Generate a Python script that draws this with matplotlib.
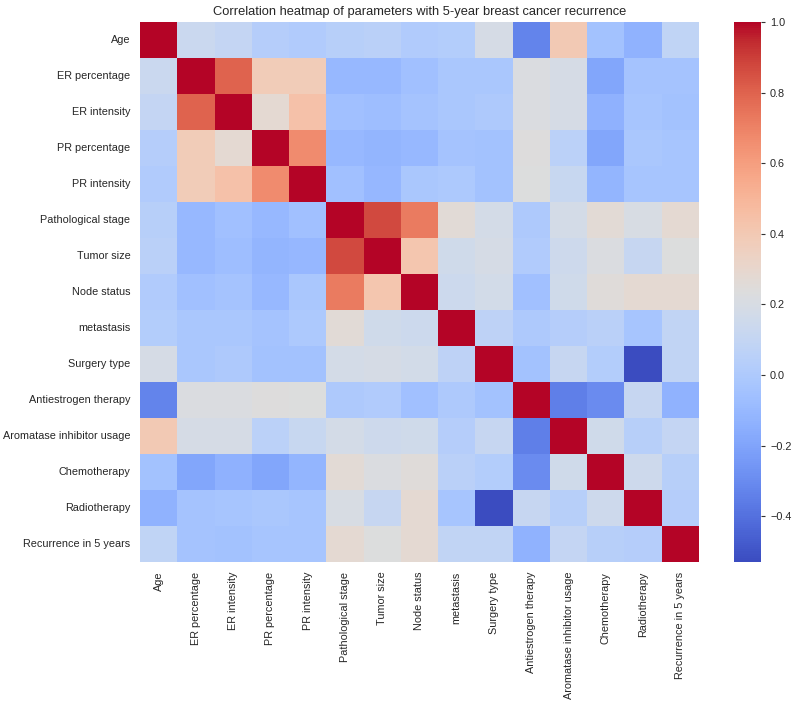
import numpy as np
import pandas as pd
import matplotlib
matplotlib.use("Agg")
import matplotlib.pyplot as plt
import seaborn as sns

labels = ["Age", "ER percentage", "ER intensity", "PR percentage", "PR intensity",
          "Pathological stage", "Tumor size", "Node status", "metastasis", "Surgery type",
          "Antiestrogen therapy", "Aromatase inhibitor usage", "Chemotherapy",
          "Radiotherapy", "Recurrence in 5 years"]

# upper triangle of the correlation matrix, row by row (diagonal excluded)
age = [0.13, 0.10, 0.03, 0.01, 0.04, 0.05, 0.01, 0.02, 0.19, -0.33, 0.40, -0.05, -0.13, 0.08]
er_pct = [0.80, 0.38, 0.38, -0.10, -0.10, -0.06, -0.02, -0.02, 0.22, 0.19, -0.19, -0.04, -0.04]
er_int = [0.28, 0.44, -0.06, -0.07, -0.04, -0.02, 0.00, 0.22, 0.19, -0.14, -0.03, -0.05]
pr_pct = [0.67, -0.10, -0.12, -0.10, -0.04, -0.05, 0.24, 0.06, -0.19, -0.02, -0.03]
pr_int = [-0.06, -0.11, -0.02, -0.01, -0.05, 0.23, 0.12, -0.12, -0.03, -0.03]
path_stage = [0.87, 0.72, 0.26, 0.18, 0.00, 0.18, 0.27, 0.20, 0.28]
tumor = [0.42, 0.16, 0.19, 0.01, 0.15, 0.22, 0.11, 0.23]
node = [0.14, 0.17, -0.06, 0.16, 0.25, 0.28, 0.28]
meta = [0.07, 0.00, 0.03, 0.05, -0.03, 0.09]
surgery = [-0.05, 0.11, 0.02, -0.53, 0.09]
antiestrogen = [-0.35, -0.30, 0.11, -0.13]
aromatase = [0.16, 0.04, 0.10]
chemo = [0.15, 0.04]
radio = [0.03]

upper = [age, er_pct, er_int, pr_pct, pr_int, path_stage, tumor, node, meta,
         surgery, antiestrogen, aromatase, chemo, radio]

n = len(labels)
corr = np.eye(n)
for i, row in enumerate(upper):
    corr[i, i + 1:] = row
    corr[i + 1:, i] = row
corr_df = pd.DataFrame(corr, index=labels, columns=labels)

sns.set_theme(style="white")
plt.rcParams["font.family"] = ["Liberation Sans", "DejaVu Sans"]

fig = plt.figure(figsize=(8, 7.02), dpi=100)
W, H = 800, 702
ax = fig.add_axes([140 / W, 1 - 562 / H, 559 / W, 540 / H])
cax = fig.add_axes([734 / W, 1 - 562 / H, 27 / W, 540 / H])

sns.heatmap(corr_df, cmap="coolwarm", ax=ax, cbar_ax=cax)
ax.set_title("Correlation heatmap of parameters with 5-year breast cancer recurrence",
             fontsize=9.3, pad=5)
ax.tick_params(axis="both", labelsize=7.8, length=0, pad=7)
ax.set_xticklabels(labels, rotation=90)
ax.set_yticklabels(labels, rotation=0)
cax.tick_params(labelsize=7.8, length=3, width=0.8, right=True, color="#333333")

fig.savefig("out.png", dpi=100)
